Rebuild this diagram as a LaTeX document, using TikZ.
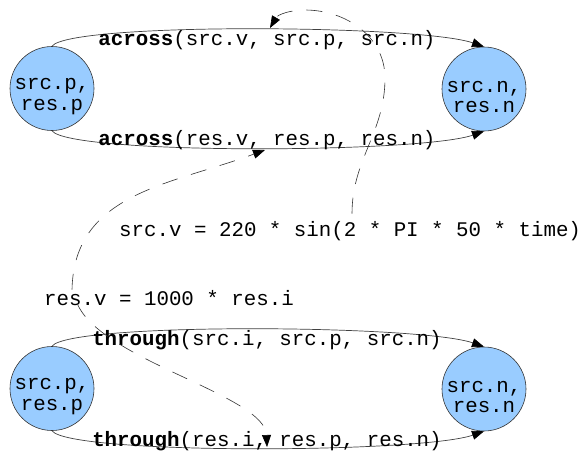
\documentclass[tikz,border=0pt]{standalone}
\usepackage{fontspec}
\setmainfont{Liberation Mono}
\usetikzlibrary{arrows.meta}
\definecolor{vblue}{HTML}{99CCFF}
\begin{document}
\frenchspacing
\begin{tikzpicture}[x=1pt,y=1pt,
  every node/.style={font=\fontsize{20.8}{20.5}\selectfont},
  vert/.style={circle, draw=black!80, fill=vblue, line width=0.6pt, minimum size=84pt, inner sep=0pt},
  vtext/.style={align=center, inner sep=0pt},
  tip/.style={-{Triangle[length=12pt,width=9pt,color=black,fill=black]}},
  edge/.style={draw=black!75, line width=0.7pt, tip},
  dep/.style={draw=black!80, line width=0.6pt, dash pattern=on 16pt off 14pt, tip},
  lab/.style={anchor=base, inner sep=0pt},
  eqn/.style={anchor=base west, inner sep=0pt}
]
\useasboundingbox (0,0) rectangle (581,-453);

% vertices
\node[vert] (tl) at (52,-88.5) {};
\node[vert] (tr) at (484,-89) {};
\node[vert] (bl) at (52,-388.5) {};
\node[vert] (br) at (484,-389) {};

\node[vtext] (tlt) at ([yshift=-8pt]tl.center) {src.p,\\res.p};
\node[vtext] (trt) at ([yshift=-8pt]tr.center) {src.n,\\res.n};
\node[vtext] (blt) at ([yshift=-8pt]bl.center) {src.p,\\res.p};
\node[vtext] (brt) at ([yshift=-8pt]br.center) {src.n,\\res.n};

% branches
\draw[edge] (tl.north) .. controls +(18,24) and +(-64,22) .. (tr.north);
\draw[edge] (tl.south) .. controls +(18,-24) and +(-64,-22) .. (tr.south);
\draw[edge] (bl.north) .. controls +(18,24) and +(-64,22) .. (br.north);
\draw[edge] (bl.south) .. controls +(18,-24) and +(-64,-22) .. (br.south);

% branch labels
\node[lab] (l1) at (267,-45) {\textbf{across}(src.v, src.p, src.n)};
\node[lab] (l2) at (267,-145) {\textbf{across}(res.v, res.p, res.n)};
\node[lab] (l3) at (267,-345) {\textbf{through}(src.i, src.p, src.n)};
\node[lab] (l4) at (267,-446) {\textbf{through}(res.i, res.p, res.n)};

% equations
\node[eqn] (srcv) at (119,-236) {src.v = 220 * sin(2 * PI * 50 * time)};
\node[eqn] (resv) at (44,-305) {res.v = 1000 * res.i};

% dependency arrows
\coordinate (eA) at (270,-28);
\coordinate (eB) at (265,-150);
\coordinate (eC) at (267,-447);
\draw[dep] ([xshift=233pt,yshift=7pt]srcv.north west) to[out=90,in=-90] (385,-78) to[out=90,in=0] (305,-10) to[out=180,in=60] (eA);
\draw[dep] ([xshift=28pt]resv.north west) .. controls +(2,97) and +(-95,-35) .. (eB);
\draw[dep] ([xshift=33pt,yshift=2pt]resv.base west) .. controls +(23,-57) and +(-2,52) .. (eC);
\end{tikzpicture}
\end{document}
